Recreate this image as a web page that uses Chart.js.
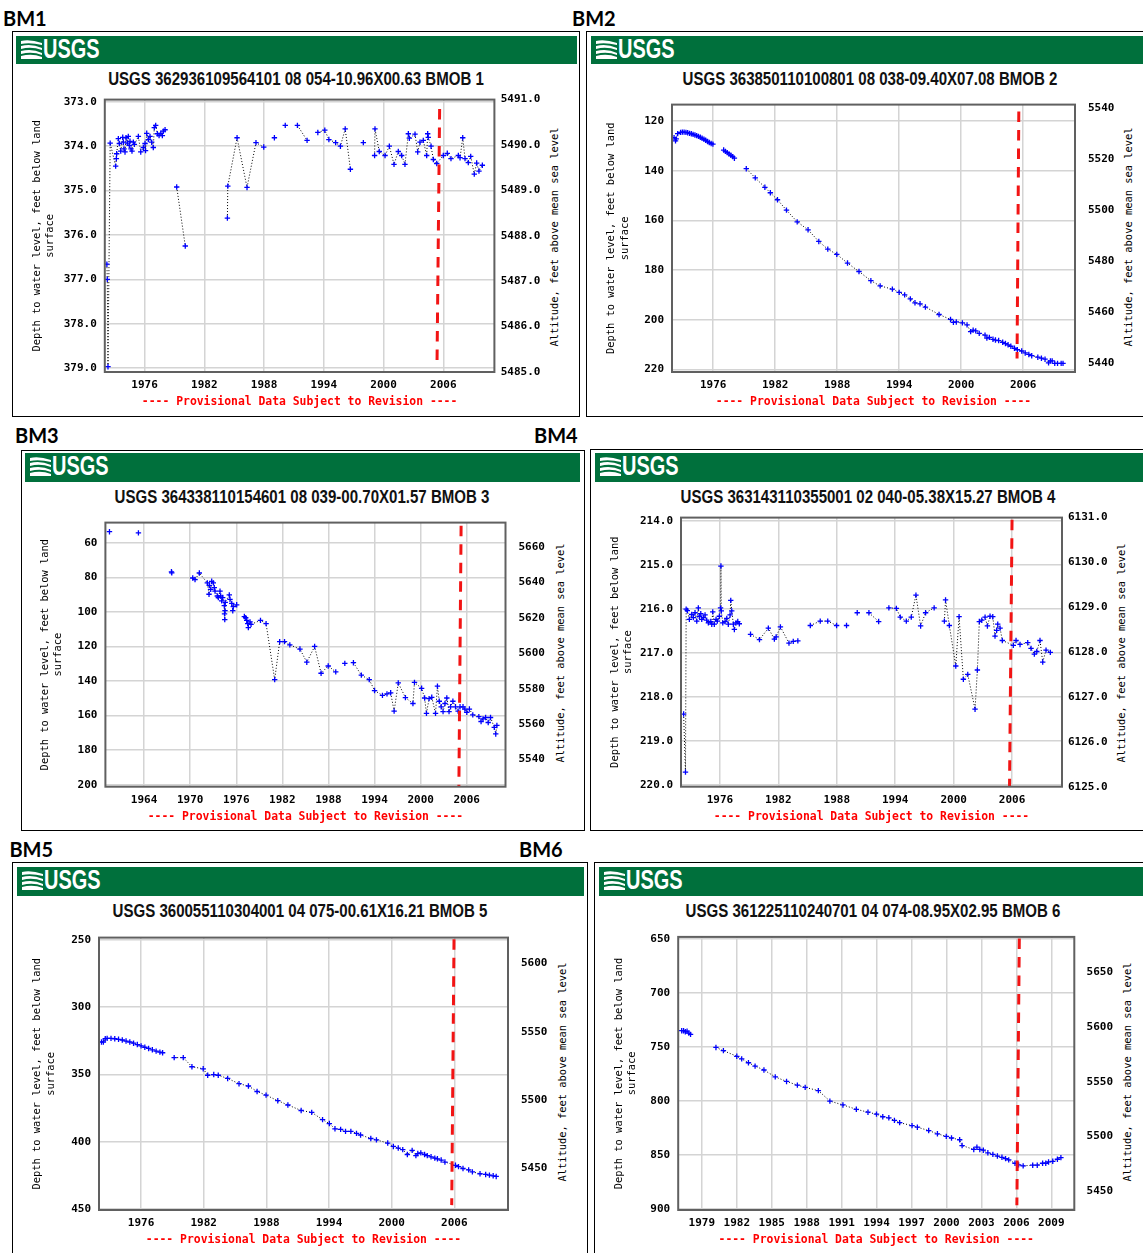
<!DOCTYPE html>
<html>
<head>
<meta charset="utf-8">
<script src="https://cdn.jsdelivr.net/npm/chart.js@4.4.0/dist/chart.umd.min.js"></script>
<style>
  body { margin: 0; width: 1143px; height: 1253px; overflow: hidden; background: #fff; position: relative; }
  .lab { position: absolute; font: bold 20px/20px Lato, 'Liberation Sans', sans-serif; color: #000; }
  .box { position: absolute; border: 1px solid #000; box-sizing: border-box; }
  .bar { position: absolute; background: #00703c; overflow: hidden; }
  .bar svg { position: absolute; left: 5px; top: 4px; }
  .bar span { position: absolute; left: 27px; top: 0; font: bold 27px/27px 'Liberation Sans', Arial, sans-serif;
              color: #fff; transform: scaleX(0.74); transform-origin: left top; white-space: nowrap; }
  .title { position: absolute; width: 600px; text-align: center; white-space: nowrap; color: #111;
           font: bold 17.5px/20px 'Liberation Sans', Arial, sans-serif; transform: scaleX(0.86); }
  .rtitle { position: absolute; white-space: nowrap; color: #000; font: 10.4px/13px 'DejaVu Sans Mono', monospace;
            transform: translate(-50%, -50%) rotate(-90deg); }
  canvas { position: absolute; }
</style>
</head>
<body>
<script>
// Well hydrographs, depth to water (feet below land surface) by decimal year.
// null marks a break in the connecting line.

const bm1Title = 'USGS 362936109564101 08 054-10.96X00.63 BMOB 1';
const bm2Title = 'USGS 363850110100801 08 038-09.40X07.08 BMOB 2';
const bm3Title = 'USGS 364338110154601 08 039-00.70X01.57 BMOB 3';
const bm4Title = 'USGS 363143110355001 02 040-05.38X15.27 BMOB 4';
const bm5Title = 'USGS 360055110304001 04 075-00.61X16.21 BMOB 5';
const bm6Title = 'USGS 361225110240701 04 074-08.95X02.95 BMOB 6';

const yearTicks = [1976, 1982, 1988, 1994, 2000, 2006];
const bm3YearTicks = [1964, 1970, 1976, 1982, 1988, 1994, 2000, 2006];
const bm6YearTicks = [1979, 1982, 1985, 1988, 1991, 1994, 1997, 2000, 2003, 2006, 2009];

const bm1DepthTicks = [373, 374, 375, 376, 377, 378, 379];
const bm1AltTicks = [5485, 5486, 5487, 5488, 5489, 5490, 5491];
const bm2DepthTicks = [120, 140, 160, 180, 200, 220];
const bm2AltTicks = [5440, 5460, 5480, 5500, 5520, 5540];
const bm3DepthTicks = [60, 80, 100, 120, 140, 160, 180, 200];
const bm3AltTicks = [5540, 5560, 5580, 5600, 5620, 5640, 5660];
const bm4DepthTicks = [214, 215, 216, 217, 218, 219, 220];
const bm4AltTicks = [6125, 6126, 6127, 6128, 6129, 6130, 6131];
const bm5DepthTicks = [250, 300, 350, 400, 450];
const bm5AltTicks = [5450, 5500, 5550, 5600];
const bm6DepthTicks = [650, 700, 750, 800, 850, 900];
const bm6AltTicks = [5450, 5500, 5550, 5600, 5650];

const bm1 = [
  [1972.22, 376.66], [1972.26, 377.00], [1972.33, 378.97], [1972.55, 373.93], [1973.10, 374.45],
  [1973.17, 374.28], [1973.20, 374.17], [1973.37, 373.83], [1973.47, 373.94], [1973.61, 374.11],
  [1973.81, 373.80], [1973.87, 373.91], [1973.94, 374.06], [1974.04, 374.13], [1974.14, 373.81],
  [1974.27, 373.93], [1974.37, 373.78], [1974.47, 373.98], [1974.54, 373.89], [1974.64, 374.06],
  [1974.74, 374.11], [1974.88, 373.91], [1974.98, 373.96], [1975.38, 373.78], [1975.62, 374.13],
  [1975.88, 374.03], [1976.05, 373.94], [1976.10, 374.10], [1976.22, 373.71], [1976.38, 373.85],
  [1976.55, 373.78], [1976.72, 373.91], [1976.88, 374.03], [1976.98, 373.58], [1977.12, 373.53],
  [1977.29, 373.72], [1977.46, 373.76], [1977.63, 373.71], [1977.79, 373.76], [1977.89, 373.66],
  [1978.06, 373.63], null,
  [1979.23, 374.92], [1980.09, 376.25], null,
  [1984.32, 375.62], [1984.36, 374.90], [1985.29, 373.81], [1986.29, 374.93], [1987.19, 373.92],
  [1987.97, 374.02], null, [1989.04, 373.81], null, [1990.13, 373.53], null,
  [1991.35, 373.53], [1992.32, 373.87], null,
  [1993.40, 373.69], [1994.10, 373.64], [1994.51, 373.85], [1995.19, 373.92], [1995.67, 374.00],
  [1996.15, 373.61], [1996.67, 374.52], null, [1997.97, 373.92], null,
  [1999.10, 374.21], [1999.14, 373.61], [1999.57, 374.12], [2000.15, 374.21], [2000.58, 374.00],
  [2001.05, 374.41], [2001.48, 374.12], [2001.82, 374.21], [2002.15, 374.41], [2002.49, 373.72],
  [2002.59, 373.82], [2003.16, 373.73], [2003.43, 374.13], [2003.66, 373.91], [2003.99, 373.87],
  [2004.33, 374.21], [2004.43, 373.72], [2004.49, 373.80], [2004.77, 374.00], [2005.00, 374.30],
  [2005.34, 374.39], [2006.00, 374.21], [2006.40, 374.16], [2006.77, 374.28], [2007.51, 374.21],
  [2007.68, 374.26], [2007.95, 373.81], [2008.18, 374.28], [2008.51, 374.37], [2008.75, 374.23],
  [2009.11, 374.63], [2009.35, 374.38], [2009.58, 374.56], [2009.92, 374.43]
];

const bm2 = [
  [1972.21, 126.7], [1972.35, 128.0], [1972.42, 127.2], [1972.56, 125.1], [1972.84, 124.6],
  [1973.01, 124.47], [1973.18, 124.47], [1973.36, 124.60], [1973.53, 124.73], [1973.71, 124.99],
  [1973.88, 125.12], [1974.05, 125.39], [1974.23, 125.65], [1974.40, 125.91], [1974.57, 126.18],
  [1974.75, 126.57], [1974.92, 126.96], [1975.10, 127.36], [1975.27, 127.75], [1975.45, 128.28],
  [1975.62, 128.67], [1975.80, 129.07], [1975.97, 129.33], null,
  [1977.01, 131.70], [1977.18, 132.22], [1977.36, 132.75], [1977.53, 133.27], [1977.71, 133.80],
  [1977.88, 134.33], [1978.05, 134.98], null,
  [1979.20, 139.2], [1980.07, 142.9], [1981.00, 146.7], [1981.53, 148.9], [1982.22, 151.7],
  [1983.09, 155.9], [1984.13, 160.6], [1985.18, 163.8], [1986.22, 168.5], [1987.09, 171.6],
  [1987.96, 173.7], [1989.00, 177.2], [1990.11, 180.6], [1991.26, 184.3], [1992.16, 186.4],
  [1993.34, 187.7], [1994.00, 189.0], [1994.53, 190.0], [1995.08, 191.6], [1995.53, 193.2],
  [1996.02, 193.6], [1996.54, 194.9], [1997.86, 197.9], [1998.97, 199.9], [1999.25, 201.1],
  [1999.53, 200.9], [2000.12, 201.3], [2000.57, 202.1], [2000.92, 204.8], [2001.16, 204.2],
  [2001.41, 204.5], [2001.75, 205.5], [2002.31, 206.2], [2002.49, 207.4], [2002.73, 207.1],
  [2003.08, 207.9], [2003.32, 208.2], [2003.63, 208.4], [2004.02, 209.1], [2004.29, 209.6],
  [2004.54, 210.1], [2004.81, 210.7], [2005.16, 211.5], [2005.44, 212.1], [2005.86, 212.6],
  [2006.20, 213.4], [2006.55, 214.0], [2006.83, 214.5], [2007.42, 215.1], [2007.77, 215.5],
  [2008.12, 215.9], [2008.46, 217.4], [2008.64, 216.6], [2008.81, 216.6], [2009.06, 217.6],
  [2009.33, 217.6], [2009.68, 217.6], [2009.86, 217.6]
];

const bm3 = [
  [1959.49, 53.6], null, [1963.26, 54.3], null, [1967.56, 76.8], [1967.60, 77.4], null,
  [1970.33, 80.4], [1970.63, 81.3], [1971.19, 77.5], [1972.23, 83.2], [1972.45, 89.8],
  [1972.49, 84.6], [1972.67, 87.0], [1972.80, 82.3], [1973.01, 83.2], [1973.14, 86.0],
  [1973.23, 88.0], [1973.53, 90.8], [1973.66, 91.7], [1973.88, 88.0], [1973.97, 90.8],
  [1974.10, 93.6], [1974.23, 91.7], [1974.44, 96.4], [1974.47, 101.1], [1974.50, 104.5],
  [1974.53, 99.3], [1974.56, 94.5], [1975.09, 90.2], [1975.18, 92.7], [1975.41, 95.1],
  [1975.54, 99.3], [1975.61, 97.0], [1976.05, 95.9], null,
  [1977.05, 102.7], [1977.23, 103.4], [1977.36, 104.9], [1977.49, 106.8], [1977.57, 109.1],
  [1977.79, 105.8], [1977.92, 107.2], [1979.15, 104.9], [1979.88, 106.8], [1981.00, 139.2],
  [1981.65, 117.2], [1982.28, 117.2], [1982.97, 119.1], [1984.29, 121.5], [1985.18, 129.1],
  [1986.20, 120.0], [1987.04, 135.5], [1987.97, 131.3], [1988.95, 134.7], null,
  [1990.13, 129.8], null,
  [1991.25, 129.4], [1992.28, 136.6], [1993.31, 139.2], [1994.00, 145.5], [1995.03, 148.3],
  [1995.62, 147.4], [1996.10, 146.8], [1996.55, 157.4], [1997.09, 141.1], [1998.02, 149.6],
  [1999.00, 153.0], [1999.20, 140.8], [2000.13, 144.2], [2000.52, 149.8], [2000.76, 158.7],
  [2001.10, 150.2], [2001.45, 149.4], [2001.94, 158.7], [2002.19, 143.0], [2002.43, 151.7],
  [2002.68, 154.9], [2002.92, 157.7], [2003.17, 153.0], [2003.41, 149.8], [2003.70, 157.7],
  [2003.90, 154.9], [2004.20, 151.7], [2004.54, 154.9], [2004.88, 157.4], [2005.13, 154.9],
  [2005.52, 154.9], [2005.76, 156.2], [2006.01, 158.1], [2006.35, 156.2], [2006.79, 159.6],
  [2007.58, 160.6], [2007.87, 163.4], [2008.12, 161.9], [2008.46, 161.1], [2008.80, 164.0],
  [2009.10, 161.1], [2009.59, 166.8], [2009.78, 170.6], [2009.93, 165.7]
];

const bm4 = [
  [1972.27, 218.39], [1972.46, 219.71], [1972.53, 216.01], [1972.65, 216.04], [1972.86, 216.24],
  [1973.10, 216.13], [1973.27, 216.20], [1973.44, 216.09], [1973.62, 216.28], [1973.78, 215.98],
  [1973.88, 216.17], [1974.03, 216.11], [1974.13, 216.24], [1974.29, 216.20], [1974.47, 216.14],
  [1974.64, 216.26], [1974.81, 216.32], [1975.06, 216.29], [1975.16, 216.35], [1975.26, 216.07],
  [1975.42, 216.35], [1975.60, 216.24], [1975.73, 216.28], [1975.94, 216.17], [1976.06, 215.98],
  [1976.10, 215.03], [1976.14, 216.05], [1976.29, 216.32], [1976.52, 216.29], [1976.70, 216.22],
  [1976.86, 216.35], [1977.04, 216.14], [1977.11, 215.81], [1977.21, 216.05], [1977.38, 216.35],
  [1977.48, 216.47], [1977.65, 216.32], [1977.83, 216.29], [1977.99, 216.34], null,
  [1979.14, 216.58], [1980.06, 216.70], [1980.97, 216.44], [1981.59, 216.69], [1981.77, 216.64],
  [1982.21, 216.41], [1983.09, 216.78], [1983.53, 216.74], [1984.00, 216.73], null,
  [1985.28, 216.38], [1986.30, 216.28], [1987.07, 216.28], [1987.98, 216.38], null,
  [1989.00, 216.38], null, [1990.10, 216.09], null, [1991.30, 216.09], [1992.30, 216.29], null,
  [1993.35, 215.98], [1994.12, 215.99], [1994.52, 216.19], [1995.14, 216.28], [1995.65, 216.19],
  [1996.13, 215.69], [1996.61, 216.39], [1997.12, 216.09], [1998.00, 215.98], null,
  [1999.05, 216.28], [1999.17, 215.80], [1999.56, 216.38], [2000.22, 217.30], [2000.56, 216.18],
  [2001.00, 217.60], [2001.45, 217.49], [2002.20, 218.28], [2002.44, 217.39], [2002.64, 216.29],
  [2002.89, 216.26], [2003.23, 216.19], [2003.47, 216.39], [2003.74, 216.17], [2004.02, 216.18],
  [2004.25, 216.62], [2004.42, 216.49], [2004.53, 216.35], [2004.77, 216.44], [2005.00, 216.72],
  [2006.13, 216.83], [2006.41, 216.72], [2006.82, 216.81], [2007.61, 216.77], [2007.95, 216.90],
  [2008.29, 217.03], [2008.54, 216.97], [2008.87, 216.72], [2009.15, 217.21], [2009.49, 216.94],
  [2009.93, 216.99]
];

const bm5 = [
  [1972.21, 325.9], [1972.39, 325.9], [1972.57, 323.5], [1972.75, 323.2], [1973.12, 323.2],
  [1973.48, 323.5], [1973.84, 323.9], [1974.20, 324.4], [1974.56, 325.2], [1974.92, 325.9],
  [1975.28, 326.8], [1975.64, 327.8], [1976.00, 328.8], [1976.36, 329.8], [1976.72, 330.7],
  [1977.08, 331.7], [1977.44, 332.7], [1977.80, 333.4], [1978.06, 333.9], null,
  [1979.17, 337.5], [1980.04, 337.5], [1980.87, 344.3], [1981.95, 345.8], [1982.38, 350.6],
  [1982.96, 350.1], [1983.39, 350.6], [1984.29, 353.0], [1985.38, 356.9], [1986.28, 358.6],
  [1987.11, 362.7], [1987.97, 365.4], [1989.09, 369.5], [1990.06, 372.7], [1991.33, 376.8],
  [1992.34, 378.2], [1993.38, 383.6], [1994.03, 386.5], [1994.57, 390.4], [1995.11, 390.8],
  [1995.58, 392.3], [1996.09, 392.3], [1996.63, 393.8], [1997.02, 395.0], [1998.00, 397.6],
  [1998.54, 398.6], [1999.62, 401.0], [2000.16, 403.5], [2000.63, 404.7], [2001.06, 405.9],
  [2001.50, 409.5], [2001.96, 406.4], [2002.32, 410.3], [2002.50, 408.8], [2002.79, 408.3],
  [2003.15, 409.5], [2003.41, 410.3], [2003.77, 411.2], [2004.13, 412.2], [2004.38, 412.7],
  [2004.74, 413.6], [2005.10, 415.1], [2006.11, 417.5], [2006.40, 418.5], [2006.83, 419.9],
  [2007.37, 420.9], [2007.73, 422.4], [2008.46, 423.8], [2009.00, 424.3], [2009.36, 424.8],
  [2009.72, 425.3], [2010.01, 425.8]
];

const bm6 = [
  [1977.27, 734.8], [1977.43, 734.8], [1977.58, 735.8], [1977.73, 735.2], [1977.88, 737.0],
  [1978.03, 738.2], null,
  [1980.21, 750.3], [1980.85, 753.3], [1982.00, 758.5], [1982.42, 760.9], [1983.00, 764.5],
  [1983.57, 767.6], [1984.33, 771.2], [1985.30, 777.6], [1986.27, 781.8], [1987.20, 785.2],
  [1987.87, 787.3], [1989.00, 790.3], [1989.99, 800.0], [1991.11, 803.6], [1992.26, 807.6],
  [1993.26, 810.3], [1993.99, 812.1], [1994.53, 814.5], [1995.05, 815.5], [1995.53, 817.9],
  [1995.98, 820.0], [1997.04, 822.7], [1997.50, 824.2], [1998.47, 827.3], [1999.22, 830.3],
  [1999.98, 832.7], [2000.43, 834.2], [2001.13, 835.8], [2001.34, 841.2], [2002.34, 844.8],
  [2002.61, 842.7], [2002.86, 844.8], [2003.16, 845.5], [2003.55, 847.9], [2003.98, 849.4],
  [2004.37, 850.9], [2004.76, 852.1], [2005.07, 853.3], [2005.34, 854.5], [2005.88, 857.6],
  [2006.19, 859.1], [2006.58, 860.0], [2007.40, 859.4], [2007.79, 859.4], [2008.25, 857.6],
  [2008.52, 857.6], [2008.76, 856.4], [2009.12, 855.8], [2009.52, 853.9], [2009.82, 852.4]
];

// hand-drawn red dashed line, top and bottom end
const bm1Revision = [[2005.63, 373.16], [2005.37, 378.86]];
const bm2Revision = [[2005.58, 116.2], [2005.41, 215.66]];
const bm3Revision = [[2005.27, 50.2], [2004.98, 201.0]];
const bm4Revision = [[2006.00, 213.98], [2005.74, 220.04]];
const bm5Revision = [[2005.97, 249.5], [2005.75, 447.1]];
const bm6Revision = [[2006.25, 649.4], [2006.04, 896.4]];

const depthTitle = ['Depth to water level, feet below land', 'surface'];
const altTitle = 'Altitude, feet above mean sea level';
const provisional = '---- Provisional Data Subject to Revision ----';

// Page layout (pixels)
const panels = [
  { name: 'BM1', lab: [3, 18.8], box: [12, 31, 580, 417], bar: [16, 36, 577, 64], head: [296, 79], text: bm1Title,
    plot: [104.8, 99, 494.4, 372], xr: [1972.01, 2011.13], yl: [372.95, 379.09], yr: [5485, 5491],
    xt: yearTicks, lt: bm1DepthTicks, rt: bm1AltTicks, dec: 1, series: bm1, mark: bm1Revision,
    ltx: 37, rtx: 554, rpad: 6.3 },
  { name: 'BM2', lab: [572, 18.8], box: [586, 31, 1150, 417], bar: [591, 36, 1143, 64], head: [870, 79], text: bm2Title,
    plot: [672, 99, 1075, 372], xr: [1972.01, 2011.02], yl: [113.4, 221.06], yr: [5436.43, 5541.27],
    xt: yearTicks, lt: bm2DepthTicks, rt: bm2AltTicks, dec: 0, series: bm2, mark: bm2Revision,
    ltx: 611.6, rtx: 1128, rpad: 13 },
  { name: 'BM3', lab: [15, 435.5], box: [21, 450, 585, 831], bar: [25, 453, 580, 482], head: [302, 497], text: bm3Title,
    plot: [105.4, 516.7, 505.5, 786.7], xr: [1958.96, 2011.05], yl: [48.34, 201.13], yr: [5524.7, 5673.8],
    xt: bm3YearTicks, lt: bm3DepthTicks, rt: bm3AltTicks, dec: 0, series: bm3, mark: bm3Revision,
    ltx: 45, rtx: 559.6, rpad: 13 },
  { name: 'BM4', lab: [534, 435.5], box: [590, 449, 1150, 831], bar: [595, 453, 1143, 482], head: [868, 497], text: bm4Title,
    plot: [681, 516.7, 1062, 786.7], xr: [1972.0, 2011.13], yl: [213.93, 220.04], yr: [6125, 6131],
    xt: yearTicks, lt: bm4DepthTicks, rt: bm4AltTicks, dec: 1, series: bm4, mark: bm4Revision,
    ltx: 615, rtx: 1120.6, rpad: 6 },
  { name: 'BM5', lab: [9.4, 849], box: [12, 862, 588, 1260], bar: [17, 867, 584, 896], head: [300, 911], text: bm5Title,
    plot: [99, 931.7, 508, 1210], xr: [1971.97, 2011.14], yl: [248.33, 450.73], yr: [5419.7, 5619.05],
    xt: yearTicks, lt: bm5DepthTicks, rt: bm5AltTicks, dec: 0, series: bm5, mark: bm5Revision,
    ltx: 37.6, rtx: 562, rpad: 13 },
  { name: 'BM6', lab: [519, 849], box: [594, 862, 1150, 1260], bar: [599, 867, 1143, 896], head: [873, 911], text: bm6Title,
    plot: [678.2, 931.7, 1074.3, 1210], xr: [1976.97, 2010.97], yl: [647.9, 900.9], yr: [5432.98, 5682.2],
    xt: bm6YearTicks, lt: bm6DepthTicks, rt: bm6AltTicks, dec: 0, series: bm6, mark: bm6Revision,
    ltx: 619, rtx: 1126.9, rpad: 12.3 }
];

const mono = "'DejaVu Sans Mono', monospace";
const logoSvg = '<svg width="21" height="19" viewBox="0 0 21 19">' +
  '<path d="M0 1 Q9 -1 21 3 L21 5 Q9 2 0 4Z" fill="#fff"/>' +
  '<path d="M0 6 Q10 3 21 8 L21 10 Q10 6 0 9Z" fill="#fff"/>' +
  '<path d="M0 11 Q11 8 21 13 L21 15 Q11 11 0 14Z" fill="#fff"/>' +
  '<path d="M0 16 Q11 13 21 17 L21 19 L0 19Z" fill="#fff"/></svg>';

// Plot frame drawn round the chart area
const frame = {
  id: 'frame',
  afterDatasetsDraw(chart) {
    const a = chart.chartArea, c = chart.ctx;
    c.save();
    c.strokeStyle = '#606060';
    c.lineWidth = 2;
    c.strokeRect(a.left, a.top, a.right - a.left, a.bottom - a.top);
    c.restore();
  }
};

function el(tag, cls, style, html) {
  const e = document.createElement(tag);
  if (cls) e.className = cls;
  Object.assign(e.style, style);
  if (html) e.innerHTML = html;
  document.body.appendChild(e);
  return e;
}

function toPoints(list) {
  return list.map(p => p ? { x: p[0], y: p[1] } : { x: null, y: null });
}

function buildPanel(p) {
  el('div', 'lab', { left: p.lab[0] + 'px', top: (p.lab[1] - 10.5) + 'px' }).textContent = p.name;
  el('div', 'box', { left: p.box[0] + 'px', top: p.box[1] + 'px',
    width: (p.box[2] - p.box[0]) + 'px', height: (p.box[3] - p.box[1]) + 'px' });
  el('div', 'bar', { left: p.bar[0] + 'px', top: p.bar[1] + 'px',
    width: (p.bar[2] - p.bar[0]) + 'px', height: (p.bar[3] - p.bar[1]) + 'px' }, logoSvg + '<span>USGS</span>');
  el('div', 'title', { left: (p.head[0] - 300) + 'px', top: (p.head[1] - 9.8) + 'px' }).textContent = p.text;

  const [L, T, R, B] = p.plot;
  // right-hand axis title reads bottom to top
  el('div', 'rtitle', { left: p.rtx + 'px', top: ((T + B) / 2 + 1) + 'px' }).textContent = altTitle;

  const cl = Math.round(p.box[0] + 1);
  const cr = Math.min(Math.round(p.box[2] - 1), 1143);
  const ct = Math.round(T - 14), cb = Math.round(B + 38);
  const canvas = el('canvas', null, { left: cl + 'px', top: ct + 'px' });
  canvas.width = cr - cl;
  canvas.height = cb - ct;

  const lhT = 10.4 * 1.3, lhP = 11.4 * 1.2;
  const tickFont = { family: mono, size: 11, weight: 'bold', lineHeight: 1.2 };
  const titleFont = { family: mono, size: 10.4, lineHeight: 1.3 };
  const fixed = list => s => { s.ticks = list.map(v => ({ value: v })); };
  const grid = { color: '#d4d4d4', lineWidth: 1.5, drawTicks: false };

  new Chart(canvas, {
    type: 'line',
    data: {
      datasets: [
        { data: toPoints(p.mark), borderColor: '#f21414', borderWidth: 3, borderDash: [10.5, 8],
          pointRadius: 0, yAxisID: 'y' },
        { data: toPoints(p.series), borderColor: '#000', borderWidth: 1, borderDash: [1, 2],
          pointStyle: 'cross', pointRadius: 2.7, pointBorderColor: '#0000ff', pointBorderWidth: 1.3,
          pointHoverRadius: 0, spanGaps: false, tension: 0, yAxisID: 'y' }
      ]
    },
    options: {
      responsive: false,
      animation: false,
      devicePixelRatio: 1,
      events: [],
      layout: { padding: { top: T - ct, left: 0, right: 0, bottom: 0 } },
      plugins: { legend: { display: false }, tooltip: { enabled: false } },
      scales: {
        x: {
          type: 'linear', min: p.xr[0], max: p.xr[1],
          afterBuildTicks: fixed(p.xt),
          afterFit: s => { s.height = cb - B; },
          grid: grid, border: { display: false },
          ticks: { font: tickFont, color: '#000', padding: 6.4, maxRotation: 0, autoSkip: false,
                   callback: v => String(v) },
          title: { display: true, text: provisional, color: '#ff0000',
                   font: { family: mono, size: 11.4, weight: 'bold', lineHeight: 1.2 },
                   padding: { top: 0, bottom: cb - (B + 30) - lhP / 2 } }
        },
        y: {
          position: 'left', reverse: true, min: p.yl[0], max: p.yl[1],
          afterBuildTicks: fixed(p.lt),
          afterFit: s => { s.width = L - cl; },
          grid: grid, border: { display: false },
          ticks: { font: tickFont, color: '#000', padding: 8, autoSkip: false,
                   callback: v => v.toFixed(p.dec) },
          title: { display: true, text: depthTitle, color: '#000', font: titleFont,
                   padding: { top: p.ltx - cl - lhT / 2, bottom: 0 } }
        },
        y1: {
          position: 'right', min: p.yr[0], max: p.yr[1],
          afterBuildTicks: fixed(p.rt),
          afterFit: s => { s.width = cr - R; },
          grid: { display: false, drawTicks: false }, border: { display: false },
          ticks: { font: tickFont, color: '#000', padding: p.rpad, autoSkip: false,
                   callback: v => v.toFixed(p.dec) },
          title: { display: false }
        }
      }
    },
    plugins: [frame]
  });
}

panels.forEach(buildPanel);
</script>
</body>
</html>
